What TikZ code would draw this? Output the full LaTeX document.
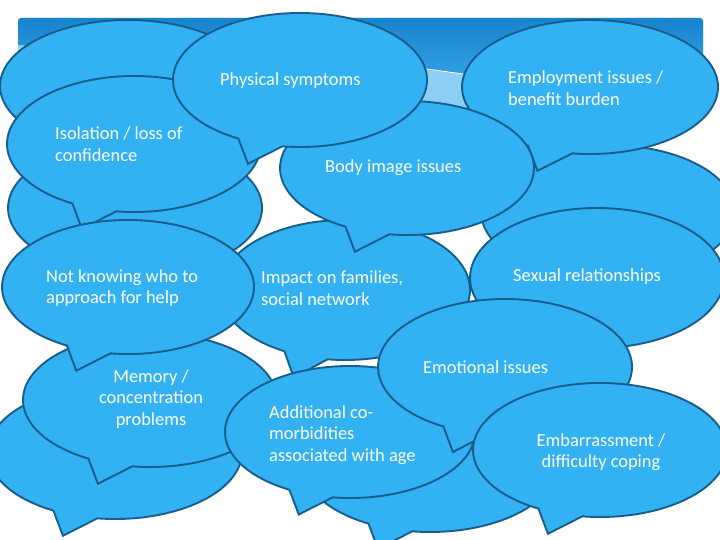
\documentclass[tikz,border=0pt]{standalone}
\usepackage{fontspec}
\setmainfont{Carlito}

\definecolor{bandtop}{HTML}{1783CE}
\definecolor{bandmid}{HTML}{3AA7E7}
\definecolor{bandlight}{HTML}{8DCFF4}
\definecolor{bubblefill}{HTML}{32B1F3}
\definecolor{bubbleline}{HTML}{175E8C}

\tikzset{
	bubble/.style={fill=bubblefill, draw=bubbleline, line width=1.9pt, line join=miter},
	bubbletext/.style={text=white, font=\fontsize{18.4}{21.5}\selectfont, inner sep=0pt}
}

% speech bubble: centre x, centre y, x radius, y radius (tail to the lower left)
\newcommand{\bubble}[4]{%
	\path[bubble] ({#1+#3*cos(98)},{#2+#4*sin(98)}) arc[start angle=98, end angle=-241, x radius=#3, y radius=#4] -- ({#1-0.41*#3},{#2+1.25*#4}) -- cycle;
}

\begin{document}
\begin{tikzpicture}[x=1pt,y=-1pt]
	\useasboundingbox (0,0) rectangle (720,540);
	\clip (0,0) rectangle (720,540);
	
	% title band
	\fill[bandlight, rounded corners=3] (18,112) rectangle (703,18);
	\shade[top color=bandtop, bottom color=bandmid, rounded corners=3] (18,45) -- (18,18) -- (703,18) -- (703,90) [sharp corners] -- (463,74) -- (427,69) -- cycle;
	\draw[white, line width=0.8pt] (380,62) -- (427,69) -- (463,74) -- (500,80);
	
	% bubbles, back to front
	\bubble{128}{86}{128}{66}
	\bubble{135}{208}{127}{67}
	\bubble{134}{144}{127}{68}
	\bubble{608}{212}{127}{67}
	\bubble{590}{87}{128}{67}
	\bubble{345}{290}{125}{70}
	\bubble{407}{168}{127}{67}
	\bubble{300}{80}{127}{67}
	\bubble{115}{452}{127}{67}
	\bubble{150}{400}{127}{67}
	\bubble{128}{287}{126}{67}
	\bubble{597}{278}{127}{70}
	\bubble{430}{465}{127}{67}
	\bubble{350}{432}{125}{66}
	\bubble{505}{367}{127}{68}
	\bubble{600}{450}{127}{67}
	
	% texts
	\node[bubbletext, anchor=west] (physical) at (220,81) {Physical symptoms};
	\node[bubbletext, anchor=west, align=left] (employment) at (508,88) {Employment issues /\\benefit burden};
	\node[bubbletext, anchor=west, align=left] (isolation) at (55,144) {Isolation / loss of\\confidence};
	\node[bubbletext, anchor=west] (bodyimage) at (325,168) {Body image issues};
	\node[bubbletext, anchor=west, align=left] (notknowing) at (46,288) {Not knowing who to\\approach for help};
	\node[bubbletext, anchor=west, align=left] (impact) at (261,288) {Impact on families,\\social network};
	\node[bubbletext, anchor=west] (sexual) at (513,277) {Sexual relationships};
	\node[bubbletext, align=center] (memory) at (151,399) {Memory /\\concentration\\problems};
	\node[bubbletext, anchor=west] (emotional) at (423,367) {Emotional issues};
	\node[bubbletext, anchor=west, align=left] (additional) at (269,435) {Additional co-\\morbidities\\associated with age};
	\node[bubbletext, align=center] (embarrassment) at (601,452) {Embarrassment /\\difficulty coping};
\end{tikzpicture}
\end{document}
